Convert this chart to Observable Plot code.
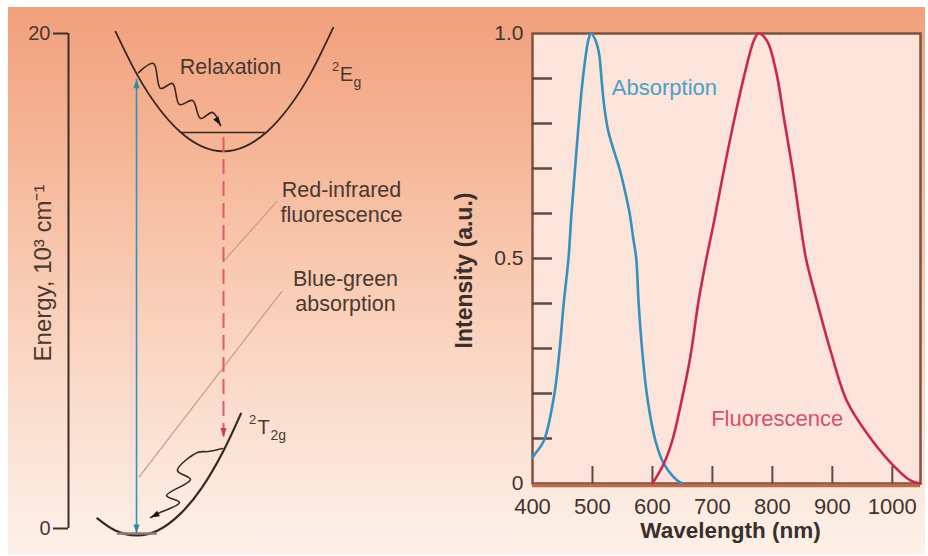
<!DOCTYPE html>
<html>
<head>
<meta charset="utf-8">
<script src="https://cdn.jsdelivr.net/npm/d3@7"></script>
<script src="https://cdn.jsdelivr.net/npm/@observablehq/plot@0.6"></script>
<style>
  html, body { margin: 0; padding: 0; background: #fff; }
  #fig { position: relative; width: 928px; height: 556px; background: #fff; overflow: hidden; }
  #bg {
    position: absolute; left: 8px; top: 7px; width: 917px; height: 548px;
    background: linear-gradient(to bottom, #f1a07c 0%, #f5b596 25%, #f9cbb3 50%, #fbdfd0 75%, #fdf1e9 100%);
  }
  #left, #right { position: absolute; top: 0; }
  #left { left: 0; }
  #right { left: 440px; }
</style>
</head>
<body>
<div id="fig">
  <div id="bg"></div>
  <div id="left"></div>
  <div id="right"></div>
</div>
<script>
// ---------- Configuration-coordinate diagram (energy vs. coordinate Q) ----------
const energyTicks = [0, 20];

// 2Eg excited-state well
const excitedQ = [-0.24, 0, 0.25, 0.5, 0.75, 1, 1.25, 1.5, 1.75, 2.0, 2.26];
const excitedE = [20.07, 18.38, 17.01, 16.03, 15.44, 15.24, 15.44, 16.03, 17.01, 18.38, 20.23];

// 2T2g ground well
const groundQ = [-0.45, -0.25, 0, 0.25, 0.5, 0.75, 1.0, 1.2];
const groundE = [0.41, -0.07, -0.28, -0.07, 0.58, 1.64, 3.14, 4.64];

// vibrational levels drawn inside the wells
const levelQ1 = [0.52, -0.22];
const levelQ2 = [1.48, 0.24];
const levelE = [16.0, -0.2];

// vertical transitions: absorption (up/down) and fluorescence (down)
const absorptionQ = 0, absorptionFrom = -0.2, absorptionTo = 18.15;
const emissionQ = 1, emissionFrom = 15.8, emissionTo = 3.7;

// non-radiative relaxation paths
const relaxUpperQ = [0.023, 0.195, 0.276, 0.414, 0.494, 0.644, 0.736, 0.874, 0.966];
const relaxUpperE = [18.42, 18.79, 17.78, 17.98, 17.13, 17.29, 16.57, 16.81, 16.28];
const relaxLowerQ = [0.989, 0.828, 0.701, 0.471, 0.621, 0.345, 0.494, 0.253, 0.161];
const relaxLowerE = [3.23, 3.11, 3.07, 2.34, 1.98, 1.33, 1.05, 0.61, 0.44];

// leader lines from the captions to the transitions
const leaderQ1 = [1.617, 1.675];
const leaderE1 = [13.23, 9.60];
const leaderQ2 = [1.004, 0.026];
const leaderE2 = [10.81, 2.07];

// captions
const captionText = ["Relaxation", "Red-infrared\nfluorescence", "Blue-green\nabsorption"];
const captionQ = [1.08, 2.356, 2.402];
const captionE = [18.67, 13.21, 9.60];

// term symbols: superscript multiplicity, letter, subscript
const termSup = ["2", "2"];
const termMain = ["E", "T"];
const termSub = ["g", "2g"];
const termQ = [2.414, 1.46];
const termE = [18.33, 4.08];

// ---------- Spectra ----------
const wavelengthTicks = [400, 500, 600, 700, 800, 900, 1000];
const wavelengthInnerTicks = [500, 600, 700, 800, 900, 1000];
const intensityTicks = [0, 0.5, 1];
const intensityInnerTicks = [0.1, 0.2, 0.3, 0.4, 0.5, 0.6, 0.7, 0.8, 0.9];

const absorptionNm = [400, 405, 419, 436, 445, 452, 460, 465, 471, 477, 484, 494, 498, 505, 511, 515, 519, 526, 538, 545, 555, 562, 568, 573, 577, 583, 591, 605, 619, 641, 650];
const absorptionI  = [0.058, 0.067, 0.095, 0.195, 0.295, 0.40, 0.50, 0.60, 0.70, 0.80, 0.90, 0.99, 1.0, 0.985, 0.955, 0.90, 0.845, 0.785, 0.73, 0.70, 0.645, 0.60, 0.545, 0.50, 0.40, 0.295, 0.195, 0.095, 0.044, 0.007, 0];

const fluorescenceNm = [600, 619, 633, 648, 663, 677, 690, 703, 719, 736, 755, 769, 777, 791, 806, 820, 834, 846, 856, 874, 897, 924, 958, 994, 1030, 1047];
const fluorescenceI  = [0, 0.044, 0.095, 0.18, 0.28, 0.406, 0.50, 0.584, 0.695, 0.806, 0.917, 0.984, 1.0, 0.984, 0.917, 0.806, 0.695, 0.584, 0.50, 0.406, 0.295, 0.184, 0.111, 0.051, 0.007, 0];

const spectrumLabelText = ["Absorption", "Fluorescence"];
const spectrumLabelNm = [620, 808];
const spectrumLabelI = [0.878, 0.144];

// ---------- helpers ----------
const zip = (xs, ys) => xs.map((x, i) => ({x, y: ys[i]}));
const FONT = '"Liberation Sans", Arial, Helvetica, sans-serif';
const ink = "#3a2820";
const textInk = "#4a3931";
const blue = "#3590bd";
const crimson = "#c8294f";

// filled, slender arrowhead with its tip at the origin, pointing up
const arrowHead = {
  draw(context, size) {
    const r = Math.sqrt(size / Math.PI);
    context.moveTo(0, 0);
    context.lineTo(-0.85 * r, 2.5 * r);
    context.lineTo(0.85 * r, 2.5 * r);
    context.closePath();
  }
};

// ---------- left panel ----------
const L = {width: 440, height: 556, ml: 68, mr: 43, mt: 33, mb: 28};
const qDomain = [-0.782, 3.0];
const kx = (L.width - L.ml - L.mr) / (qDomain[1] - qDomain[0]);
const ky = (L.height - L.mt - L.mb) / 20;
const headAngle = (q0, e0, q1, e1) => Math.atan2((q1 - q0) * kx, (e1 - e0) * ky) * 180 / Math.PI;

const nU = relaxUpperQ.length, nL = relaxLowerQ.length;
const heads = [
  {x: absorptionQ, y: absorptionTo, a: 0, c: "#2b8aa3"},
  {x: absorptionQ, y: absorptionFrom, a: 180, c: "#2b8aa3"},
  {x: emissionQ, y: emissionTo, a: 180, c: "#d8334f"},
  {x: relaxUpperQ[nU - 1], y: relaxUpperE[nU - 1],
   a: headAngle(relaxUpperQ[nU - 2], relaxUpperE[nU - 2], relaxUpperQ[nU - 1], relaxUpperE[nU - 1]), c: "#1e140f"},
  {x: relaxLowerQ[nL - 1], y: relaxLowerE[nL - 1],
   a: headAngle(relaxLowerQ[nL - 2], relaxLowerE[nL - 2], relaxLowerQ[nL - 1], relaxLowerE[nL - 1]), c: "#1e140f"}
];

const levels = levelE.map((e, i) => ({e, q1: levelQ1[i], q2: levelQ2[i]}));
const leaders = leaderQ1.map((q, i) => ({q1: q, e1: leaderE1[i], q2: leaderQ2[i], e2: leaderE2[i]}));
const captions = captionText.map((t, i) => ({t, x: captionQ[i], y: captionE[i]}));
const terms = termMain.map((t, i) => ({sup: termSup[i], main: t, sub: termSub[i], x: termQ[i], y: termE[i]}));

const left = Plot.plot({
  width: L.width, height: L.height,
  marginLeft: L.ml, marginRight: L.mr, marginTop: L.mt, marginBottom: L.mb,
  x: {domain: qDomain, axis: null},
  y: {domain: [0, 20], axis: null},
  style: {background: "transparent", fontFamily: FONT, fontSize: "20px", color: textInk, overflow: "visible"},
  marks: [
    Plot.ruleX([qDomain[0]], {y1: 0, y2: 20, stroke: "#3f2e26", strokeWidth: 2}),
    Plot.axisY(energyTicks, {anchor: "left", tickSize: 15, tickPadding: 3, strokeWidth: 2, stroke: "#3f2e26", fontSize: 20, label: null}),
    Plot.text(["Energy, 10³ cm⁻¹"], {frameAnchor: "left", textAnchor: "middle", rotate: -90, dx: -25, dy: -8, fontSize: 24, fill: textInk}),
    // leader lines
    Plot.link(leaders, {x1: "q1", y1: "e1", x2: "q2", y2: "e2", stroke: "#c99b83", strokeWidth: 1.2}),
    // wells
    Plot.line(zip(excitedQ, excitedE), {x: "x", y: "y", curve: "natural", stroke: ink, strokeWidth: 1.8}),
    Plot.line(zip(groundQ, groundE), {x: "x", y: "y", curve: "natural", stroke: ink, strokeWidth: 2.2}),
    Plot.ruleY(levels.slice(0, 1), {y: "e", x1: "q1", x2: "q2", stroke: ink, strokeWidth: 1.6}),
    Plot.ruleY(levels.slice(1), {y: "e", x1: "q1", x2: "q2", stroke: "#8c7c76", strokeWidth: 2.5}),
    // transitions
    Plot.ruleX([absorptionQ], {y1: absorptionFrom, y2: absorptionTo, stroke: blue, strokeWidth: 1.6}),
    Plot.ruleX([emissionQ], {y1: emissionFrom, y2: emissionTo, stroke: "#e6566f", strokeWidth: 2, strokeDasharray: "15,7"}),
    // relaxation squiggles
    Plot.line(zip(relaxUpperQ, relaxUpperE), {x: "x", y: "y", curve: "catmull-rom", stroke: ink, strokeWidth: 1.6}),
    Plot.line(zip(relaxLowerQ, relaxLowerE), {x: "x", y: "y", curve: "catmull-rom", stroke: ink, strokeWidth: 1.6}),
    Plot.dot(heads, {x: "x", y: "y", rotate: "a", fill: "c", stroke: "none", r: 3.6, symbol: arrowHead}),
    // captions
    Plot.text(captions, {x: "x", y: "y", text: "t", fill: textInk, fontSize: 21.5, lineHeight: 1.15}),
    Plot.text(terms, {x: "x", y: "y", text: "main", fill: textInk, fontSize: 20}),
    Plot.text(terms, {x: "x", y: "y", text: "sup", fill: textInk, fontSize: 13, dx: -11, dy: -8}),
    Plot.text(terms, {x: "x", y: "y", text: "sub", fill: textInk, fontSize: 14, dx: 7, dy: 8, textAnchor: "start"})
  ]
});
document.getElementById("left").appendChild(left);

// ---------- right panel ----------
const R = {width: 488, height: 556, ml: 92, mr: 8, mt: 33, mb: 73};
const frameW = R.width - R.ml - R.mr;
const frameH = R.height - R.mt - R.mb;

const spectrumLabels = spectrumLabelText.map((t, i) => ({t, x: spectrumLabelNm[i], y: spectrumLabelI[i]}));

const right = Plot.plot({
  width: R.width, height: R.height,
  marginLeft: R.ml, marginRight: R.mr, marginTop: R.mt, marginBottom: R.mb,
  x: {domain: [400, 1047]},
  y: {domain: [0, 1]},
  style: {background: "transparent", fontFamily: FONT, fontSize: "22px", color: "#3e3330", overflow: "visible"},
  marks: [
    Plot.frame({fill: "#fce4da", stroke: "#7e5140", strokeWidth: 2.5}),
    Plot.ruleY([0], {stroke: "#b96b4c", strokeWidth: 3.5, dy: 2}),
    Plot.tickY(intensityInnerTicks, {insetRight: frameW - 20, stroke: "#5d4a40", strokeWidth: 2.5}),
    Plot.tickX(wavelengthInnerTicks, {insetTop: frameH - 17, stroke: "#5d4a40", strokeWidth: 2}),
    Plot.axisY(intensityTicks, {anchor: "left", tickSize: 0, tickPadding: 9, fontSize: 21, label: null,
      tickFormat: d => d === 0 ? "0" : d.toFixed(1)}),
    Plot.axisX(wavelengthTicks, {anchor: "bottom", tickSize: 0, tickPadding: 15, fontSize: 22, label: null,
      tickFormat: d => String(d)}),
    Plot.line(zip(absorptionNm, absorptionI), {x: "x", y: "y", curve: "catmull-rom", stroke: blue, strokeWidth: 2.6}),
    Plot.line(zip(fluorescenceNm, fluorescenceI), {x: "x", y: "y", curve: "catmull-rom", stroke: crimson, strokeWidth: 2.6}),
    Plot.text(spectrumLabels.slice(0, 1), {x: "x", y: "y", text: "t", fill: "#4d9fc8", fontSize: 22}),
    Plot.text(spectrumLabels.slice(1), {x: "x", y: "y", text: "t", fill: "#d4506f", fontSize: 22}),
    Plot.text(["Intensity (a.u.)"], {frameAnchor: "left", textAnchor: "middle", rotate: -90, dx: -68, dy: 12, fontWeight: "bold", fontSize: 23, fill: "#3a2f2b"}),
    Plot.text(["Wavelength (nm)"], {frameAnchor: "bottom", dx: 4, dy: 54, fontWeight: "bold", fontSize: 22.5, fill: "#3a2f2b"})
  ]
});
document.getElementById("right").appendChild(right);
</script>
</body>
</html>
